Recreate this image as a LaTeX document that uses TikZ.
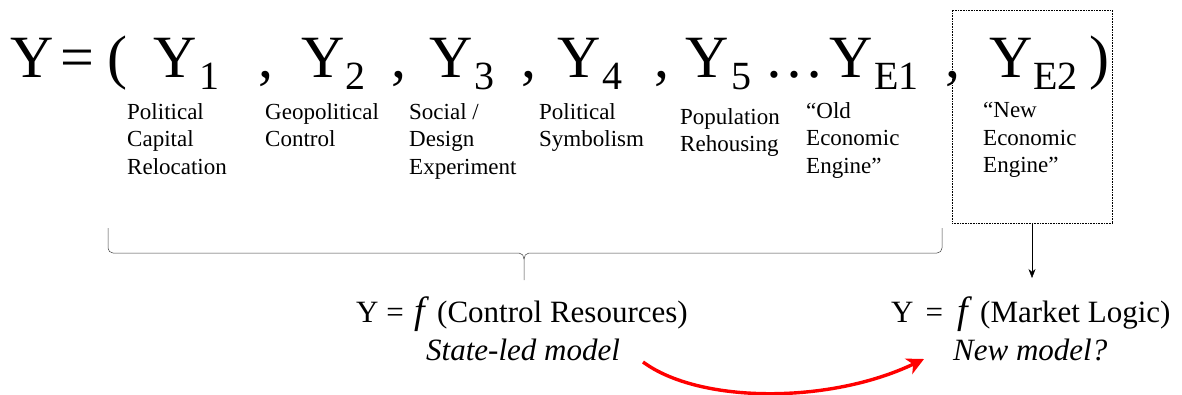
\documentclass[tikz,border=0pt]{standalone}
\usepackage{fontspec}
\setmainfont{Liberation Serif}
\usetikzlibrary{arrows.meta}
\begin{document}
\begin{tikzpicture}[x=1pt,y=-1pt,
  big/.style={anchor=base west, inner sep=0, font=\fontsize{60}{60}\selectfont},
  sub/.style={anchor=base west, inner sep=0, font=\fontsize{40}{40}\selectfont},
  lab/.style={anchor=north west, inner sep=0, align=left, font=\fontsize{23}{27.5}\selectfont},
  formula/.style={anchor=base west, inner sep=0, font=\fontsize{31}{31}\selectfont},
  model/.style={anchor=base west, inner sep=0, font=\fontsize{31}{31}\selectfont\itshape},
  fn/.style={anchor=base west, inner sep=0, font=\fontsize{38}{38}\selectfont\itshape},
  bracepath/.style={line width=0.5pt, draw=black!75},
]
\useasboundingbox (0,0) rectangle (1182,394);
% main row
\node[big] (Y) at (10,77) {Y};
\node[big] (eq) at (60,77) {=};
\node[big] (lp) at (107,77) {(};
\node[big] (y1) at (153,77) {Y}; \node[sub] (s1) at (199,89) {1};
\node[big] (c1) at (258,77) {,};
\node[big] (y2) at (301,77) {Y}; \node[sub] (s2) at (345,89) {2};
\node[big] (c2) at (391,77) {,};
\node[big] (y3) at (429,77) {Y}; \node[sub] (s3) at (474,89) {3};
\node[big] (c3) at (521,77) {,};
\node[big] (y4) at (557,77) {Y}; \node[sub] (s4) at (602,89) {4};
\node[big] (c4) at (654,77) {,};
\node[big] (y5) at (685,77) {Y}; \node[sub] (s5) at (731,89) {5};
\node[big] (dots) at (764,77) {…};
\node[big] (ye1) at (829,77) {Y}; \node[sub] (se1) at (874,89) {E1};
\node[big] (c5) at (945,77) {,};
\node[big] (ye2) at (989,77) {Y}; \node[sub] (se2) at (1033,89) {E2};
\node[big] (rp) at (1089,77) {)};
% labels
\node[lab] (l1) at (127,103) {Political\\Capital\\Relocation};
\node[lab] (l2) at (265,103) {Geopolitical\\Control};
\node[lab] (l3) at (409,103) {Social /\\Design\\Experiment};
\node[lab] (l4) at (539,103) {Political\\Symbolism};
\node[lab] (l5) at (680,108) {Population\\Rehousing};
\node[lab] (l6) at (806,102) {“Old\\Economic\\Engine”};
\node[lab] (l7) at (983,102) {“New\\Economic\\Engine”};
% dotted box
\node[draw, densely dotted, line width=0.6pt, minimum width=160, minimum height=213, inner sep=0] (box) at (1032,116.5) {};
% brace
\draw[bracepath] (108,228) -- (108,248) to[out=-90,in=180] (113,253) -- (519,253) to[out=0,in=90] (524,259) -- (524,280);
\draw[bracepath] (942,228) -- (942,248) to[out=-90,in=0] (937,253) -- (529,253) to[out=180,in=90] (524,259);
% bottom formulas
\node[formula] (fy1) at (356,322) {Y =};
\node[fn] (f1) at (414,323) {f};
\node[formula] (fc) at (437,322) {(Control Resources)};
\node[model] (m1) at (426,360) {State-led model};
\node[formula] (fy2) at (891,322) {Y\hspace{12pt}=};
\node[fn] (f2) at (957,323) {f};
\node[formula] (fm) at (980,322) {(Market Logic)};
\node[model] (m2) at (953,360) {New model?};
% connectors
\coordinate (arrtip) at (1032,278);
\draw[-{Stealth[length=9pt,width=7pt]}, line width=0.5pt] (box.south) -- (arrtip);
\coordinate (rs) at (643,362);
\coordinate (re) at (924,359);
\draw[red, line width=3.4pt, -{Stealth[length=17pt,width=17pt,inset=5pt]}] (rs) .. controls (700,404) and (830,404) .. (re);
\end{tikzpicture}
\end{document}
